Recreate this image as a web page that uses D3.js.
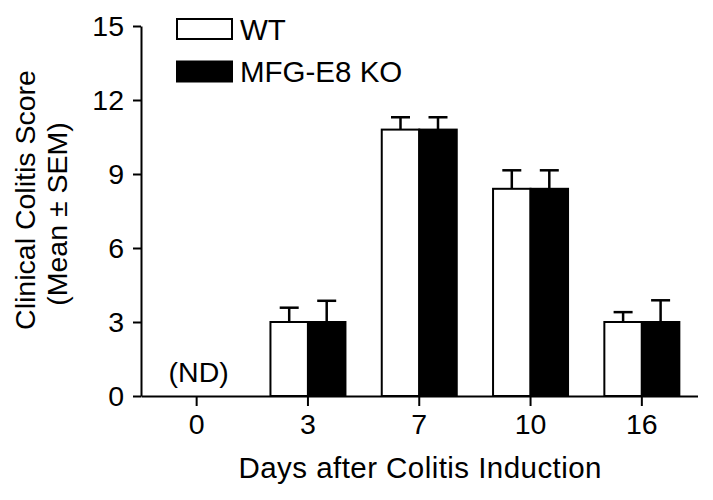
<!DOCTYPE html>
<html>
<head>
<meta charset="utf-8">
<script src="https://cdn.jsdelivr.net/npm/d3@7"></script>
<style>
  html, body { margin: 0; padding: 0; background: #fff; }
  svg { display: block; }
  text { font-family: "Liberation Sans", Arial, sans-serif; fill: #000; }
</style>
</head>
<body>
<svg id="chart" width="713" height="500"></svg>
<script>
// ---- data ----
const days = ["0", "3", "7", "10", "16"];
const seriesNames = ["WT", "MFG-E8 KO"];
const seriesFill = ["#ffffff", "#000000"];
const wtMean = [null, 3.0, 10.8, 8.4, 3.0];
const wtSem  = [null, 0.58, 0.5, 0.75, 0.4];
const koMean = [null, 3.0, 10.8, 8.4, 3.0];
const koSem  = [null, 0.86, 0.5, 0.75, 0.88];
const notes  = ["(ND)", "", "", "", ""];
const yTicks = [0, 3, 6, 9, 12, 15];
const xTitle = "Days after Colitis Induction";
const yTitle1 = "Clinical Colitis Score";
const yTitle2 = "(Mean \u00B1 SEM)";

const means = [wtMean, koMean];
const sems = [wtSem, koSem];

const svg = d3.select("#chart");
const FS = 28.5;

const x0 = d3.scaleBand().domain(days).range([141, 697.5]).padding(0);
const x1 = d3.scaleBand().domain(seriesNames).range([0, x0.bandwidth()]).paddingInner(0).paddingOuter(0.484);
const y = d3.scaleLinear().domain([0, 15]).range([396, 26]);

// bars
const rows = [];
days.forEach((d, i) => {
  seriesNames.forEach((s, j) => {
    if (means[j][i] != null) rows.push({ day: d, s, j, m: means[j][i], e: sems[j][i] });
  });
});

const g = svg.append("g");
// error bars (upper only)
const capW = 19;
rows.forEach(r => {
  const cx = x0(r.day) + x1(r.s) + x1.bandwidth() / 2;
  g.append("line").attr("x1", cx).attr("x2", cx)
    .attr("y1", y(r.m)).attr("y2", y(r.m + r.e))
    .attr("stroke", "#000").attr("stroke-width", 2.5);
  g.append("line").attr("x1", cx - capW / 2).attr("x2", cx + capW / 2)
    .attr("y1", y(r.m + r.e)).attr("y2", y(r.m + r.e))
    .attr("stroke", "#000").attr("stroke-width", 2.5);
});
g.selectAll("rect.bar").data(rows).join("rect")
  .attr("class", "bar")
  .attr("x", r => x0(r.day) + x1(r.s))
  .attr("width", x1.bandwidth())
  .attr("y", r => y(r.m))
  .attr("height", r => y(0) - y(r.m))
  .attr("fill", r => seriesFill[r.j])
  .attr("stroke", "#000").attr("stroke-width", 2);

// notes (ND)
svg.append("g").selectAll("text").data(days.map((d, i) => ({ d, t: notes[i] })).filter(o => o.t))
  .join("text")
  .attr("x", o => x0(o.d) + x0.bandwidth() / 2 + 2)
  .attr("y", 382)
  .attr("text-anchor", "middle")
  .attr("font-size", FS)
  .text(o => o.t);

// axes
const yAxis = svg.append("g").attr("transform", "translate(141,0)")
  .call(d3.axisLeft(y).tickValues(yTicks).tickSize(8).tickSizeOuter(0).tickPadding(9));
const xAxis = svg.append("g").attr("transform", "translate(0,396)")
  .call(d3.axisBottom(x0).tickSize(10).tickSizeOuter(0).tickPadding(8));
[yAxis, xAxis].forEach(a => {
  a.selectAll("path, line").attr("stroke", "#000").attr("stroke-width", 2);
  a.selectAll("text").attr("font-size", FS).attr("font-family", '"Liberation Sans", Arial, sans-serif').attr("fill", "#000");
});

// titles
svg.append("text").attr("x", 420).attr("y", 478).attr("text-anchor", "middle")
  .attr("font-size", 29.5).attr("textLength", 363).text(xTitle);
svg.append("text").attr("transform", "translate(35,200) rotate(-90)").attr("text-anchor", "middle")
  .attr("font-size", FS).text(yTitle1);
svg.append("text").attr("transform", "translate(66.5,214) rotate(-90)").attr("text-anchor", "middle")
  .attr("font-size", FS).text(yTitle2);

// legend
const leg = svg.append("g");
seriesNames.forEach((s, j) => {
  const ty = 19 + j * 42.5;
  leg.append("rect").attr("x", 177).attr("y", ty).attr("width", 55).attr("height", 20)
    .attr("fill", seriesFill[j]).attr("stroke", "#000").attr("stroke-width", 2);
  leg.append("text").attr("x", 240).attr("y", ty + 20.5).attr("font-size", 29.5).text(s);
});
</script>
</body>
</html>
